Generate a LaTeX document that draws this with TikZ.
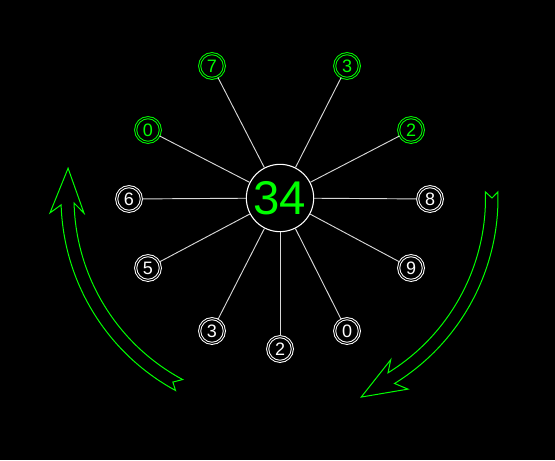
\documentclass[tikz,border=0pt]{standalone}
\usepackage{fontspec}
\setmainfont{Liberation Sans}
\definecolor{lime}{RGB}{0,255,0}
\definecolor{spokegray}{RGB}{215,215,215}
\begin{document}
\begin{tikzpicture}[x=0.75pt,y=-0.75pt,
  hub/.style={circle, draw=white, line width=0.8pt, minimum size=50.5pt, inner sep=0pt, text=lime, font=\fontsize{35.5}{36}\selectfont},
  wnum/.style={circle, draw=white, double=black, line width=0.75pt, double distance=0.8pt, minimum size=18.5pt, inner sep=0pt, text=white, font=\fontsize{13.5}{14}\selectfont},
  gnum/.style={wnum, draw=lime, text=lime},
  spoke/.style={draw=spokegray, line width=0.7pt},
  bandarrow/.style={draw=lime, line width=0.75pt, line join=miter}
]
\fill[black] (0,0) rectangle (555,460);
\useasboundingbox (0,0) rectangle (555,460);

\node[hub] (c) at (280,198) {34};

\node[gnum] (n7) at (212,66) {7};
\node[gnum] (n3a) at (347,66) {3};
\node[gnum] (n0a) at (148,130) {0};
\node[gnum] (n2a) at (411,130) {2};
\node[wnum] (n6) at (129,199) {6};
\node[wnum] (n8) at (430,199) {8};
\node[wnum] (n5) at (148,268) {5};
\node[wnum] (n9) at (411,268) {9};
\node[wnum] (n3b) at (212,331) {3};
\node[wnum] (n0b) at (347,331) {0};
\node[wnum] (n2b) at (280,349) {2};

\foreach \n in {n7,n3a,n0a,n2a,n6,n8,n5,n9,n3b,n0b,n2b}
  \draw[spoke] (c) -- (\n);

\begin{scope}[shift={(280,198)}, x=0.75pt, y=0.75pt]
  % left arrow (tail at bottom, head at left)
  \draw[bandarrow] (241.5:219) arc[start angle=241.5, end angle=181.8, radius=219]
    -- (183.7:230.5) -- (172:214) -- (184.4:196.6) -- (181.4:206)
    arc[start angle=181.4, end angle=241.8, radius=206]
    -- (239.8:213) -- cycle;
  % right arrow (tail at right, head at bottom)
  \draw[bandarrow] (1.6:218) arc[start angle=1.6, end angle=-58.3, radius=218]
    -- (-56.2:230) -- (-67.8:215) -- (-55.6:196) -- (-58.3:205.5)
    arc[start angle=-58.3, end angle=1.7, radius=205.5]
    -- (0:212) -- cycle;
\end{scope}
\end{tikzpicture}
\end{document}
